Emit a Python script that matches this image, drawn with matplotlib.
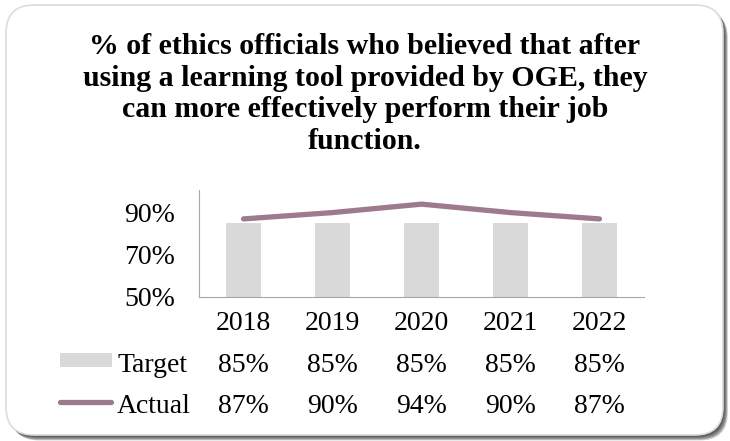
"""
OGE learning tool effectiveness: target vs actual, 2018-2022
Bar (target) + line (actual) with data table underneath
"""

import matplotlib.pyplot as plt
from matplotlib.patches import FancyBboxPatch, Rectangle
from matplotlib.transforms import blended_transform_factory

years  = ["2018", "2019", "2020", "2021", "2022"]
target = [85, 85, 85, 85, 85]
actual = [87, 90, 94, 90, 87]
yticks = [50, 70, 90]

TITLE = ("% of ethics officials who believed that after\n"
         "using a learning tool provided by OGE, they\n"
         "can more effectively perform their job\n"
         "function.")

BAR_C  = "#d9d9d9"
LINE_C = "#9e7a8e"
plt.rcParams["font.family"] = ["Liberation Serif", "DejaVu Serif"]

W, H = 730, 441
fig = plt.figure(figsize=(W / 100, H / 100), dpi=100)

# ── background layer in pixel coordinates: rounded frame + soft shadow ─────
bg = fig.add_axes([0, 0, 1, 1])
bg.set_xlim(0, W); bg.set_ylim(H, 0)
bg.axis("off")
for k in range(6, 0, -1):
    bg.add_patch(FancyBboxPatch((6 + k * 0.8, 5 + k * 0.9), 717, 430,
                                boxstyle="round,pad=0,rounding_size=28",
                                fc="#2a2a2a", ec="none", alpha=0.24))
bg.add_patch(FancyBboxPatch((6, 5), 717, 430,
                            boxstyle="round,pad=0,rounding_size=28",
                            fc="white", ec="#dcdcdc", lw=1.2))

# legend keys for the data table
bg.add_patch(Rectangle((60, 353), 52, 14, fc=BAR_C, ec="none"))
bg.plot([60, 111], [402, 402], color=LINE_C, lw=3.8, solid_capstyle="round")

fig.text(0.5, 1 - 33 / H, TITLE, ha="center", va="top", fontsize=21.5,
         fontweight="bold", linespacing=1.22)

# ── plot area ───────────────────────────────────────────────────────────────
ax = fig.add_axes([199 / W, 1 - 297 / H, 445 / W, 107 / H])
ax.patch.set_alpha(0)
x = range(len(years))
ax.bar(x, target, width=0.40, color=BAR_C, zorder=2)
ax.plot(x, actual, color=LINE_C, lw=3.8, solid_capstyle="round", zorder=3)
ax.set_xlim(-0.5, len(years) - 0.5)
ax.set_ylim(50, 100.7)
ax.set_yticks(yticks)
ax.set_yticklabels([f"{v}%" for v in yticks], fontsize=20)
ax.tick_params(axis="y", length=0, pad=17)
ax.set_xticks([])
ax.spines[["top", "right"]].set_visible(False)
ax.spines[["left", "bottom"]].set_color("#a6a6a6")

# ── data table ──────────────────────────────────────────────────────────────
tr = blended_transform_factory(ax.transData, fig.transFigure)
rows = [(None, years, 330), ("Target", target, 372), ("Actual", actual, 413)]
for label, vals, base in rows:
    for i, v in enumerate(vals):
        s = v if isinstance(v, str) else f"{v}%"
        ax.text(i, 1 - base / H, s, transform=tr, ha="center", va="baseline",
                fontsize=20, clip_on=False)
    if label:
        fig.text(117 / W, 1 - base / H, label, ha="left", va="baseline",
                 fontsize=20)

plt.savefig("out.png", dpi=100)
plt.close()
